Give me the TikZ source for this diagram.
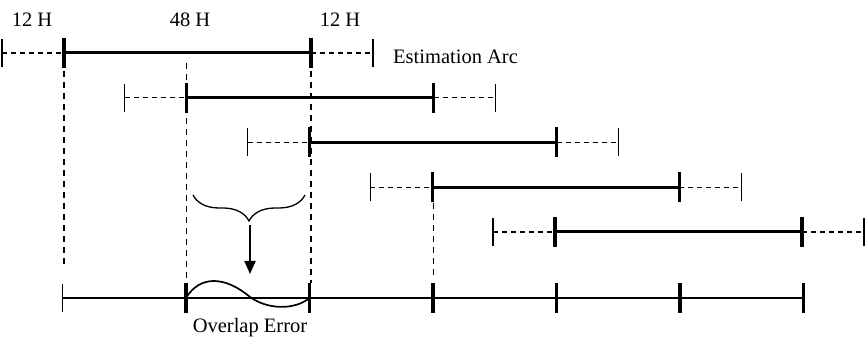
\documentclass[tikz,border=0pt]{standalone}
\usepackage{fontspec}
\setmainfont{Liberation Serif}
\usetikzlibrary{arrows.meta,positioning,calc,decorations.pathreplacing}

\begin{document}
\begin{tikzpicture}[
  x=1pt, y=-1pt,
  >={Triangle[length=13pt,width=11pt]},
  every node/.style={font=\fontsize{20.5}{24}\selectfont, inner sep=0pt},
  arc/.style={line width=3pt},
  pad/.style={line width=1.3pt, dash pattern=on 5pt off 4pt},
  bigtick/.style={line width=3.2pt},
  smalltick/.style={line width=1.3pt},
  guide/.style={line width=1.3pt, dash pattern=on 6pt off 5pt},
  axis/.style={line width=1.6pt},
]
  \useasboundingbox (0,0) rectangle (865,344);

  % estimation arcs, shifted by one 48 H step each
  \foreach \i in {0,...,4} {
    \pgfmathsetmacro{\dx}{122.75*\i}
    \pgfmathsetmacro{\yy}{53+44.75*\i}
    \coordinate (s\i) at (2+\dx,\yy);
    \coordinate (a\i) at (64+\dx,\yy);
    \coordinate (b\i) at (311+\dx,\yy);
    \coordinate (e\i) at (373+\dx,\yy);
    \draw[pad] (s\i) -- (a\i);
    \draw[arc] (a\i) -- (b\i);
    \draw[pad] (b\i) -- (e\i);
    \draw[smalltick] ($(s\i)+(0,-14)$) -- ($(s\i)+(0,14)$);
    \draw[smalltick] ($(e\i)+(0,-14)$) -- ($(e\i)+(0,14)$);
    \draw[bigtick] ($(a\i)+(0,-15)$) -- ($(a\i)+(0,15)$);
    \draw[bigtick] ($(b\i)+(0,-15)$) -- ($(b\i)+(0,15)$);
  }

  % combined axis
  \foreach \i in {0,...,6}
    \coordinate (t\i) at (62.5+123.5*\i,298);
  \draw[axis] (t0) -- (t6);
  \draw[smalltick] ($(t0)+(0,-14)$) -- ($(t0)+(0,14)$);
  \foreach \i in {1,...,6}
    \draw[bigtick] ($(t\i)+(0,-15)$) -- ($(t\i)+(0,15)$);

  % guides
  \draw[guide] ($(a0)+(0,18)$) -- ++(0,196);
  \draw[guide] ($(a1|-a0)+(0,10)$) -- ($(a1|-t1)+(0,-15)$);
  \draw[guide] ($(b0)+(0,18)$) -- ($(b0|-t2)+(0,-15)$);
  \draw[guide] ($(b1|-a3)+(0,16)$) -- ($(b1|-t3)+(0,-22)$);

  % overlap
  \draw[line width=1.7pt] (t1) .. controls (200,275) and (225,276) .. (250,297)
    .. controls (268,310) and (295,310) .. (t2);
  \draw[line width=1.3pt, decorate, decoration={brace, amplitude=26pt}]
    (305,195) -- (193,195);
  \coordinate (tip) at (250,225);
  \coordinate (hit) at (250,274);
  \draw[->, line width=1.8pt] (tip) -- (hit);

  \node (h1) at (32,20) {12 H};
  \node (h2) at (190,20) {48 H};
  \node (h3) at (340,20) {12 H};
  \node[anchor=west] (est) at (393,57) {Estimation Arc};
  \node (ovl) at (250,328) {Overlap Error};
\end{tikzpicture}
\end{document}
